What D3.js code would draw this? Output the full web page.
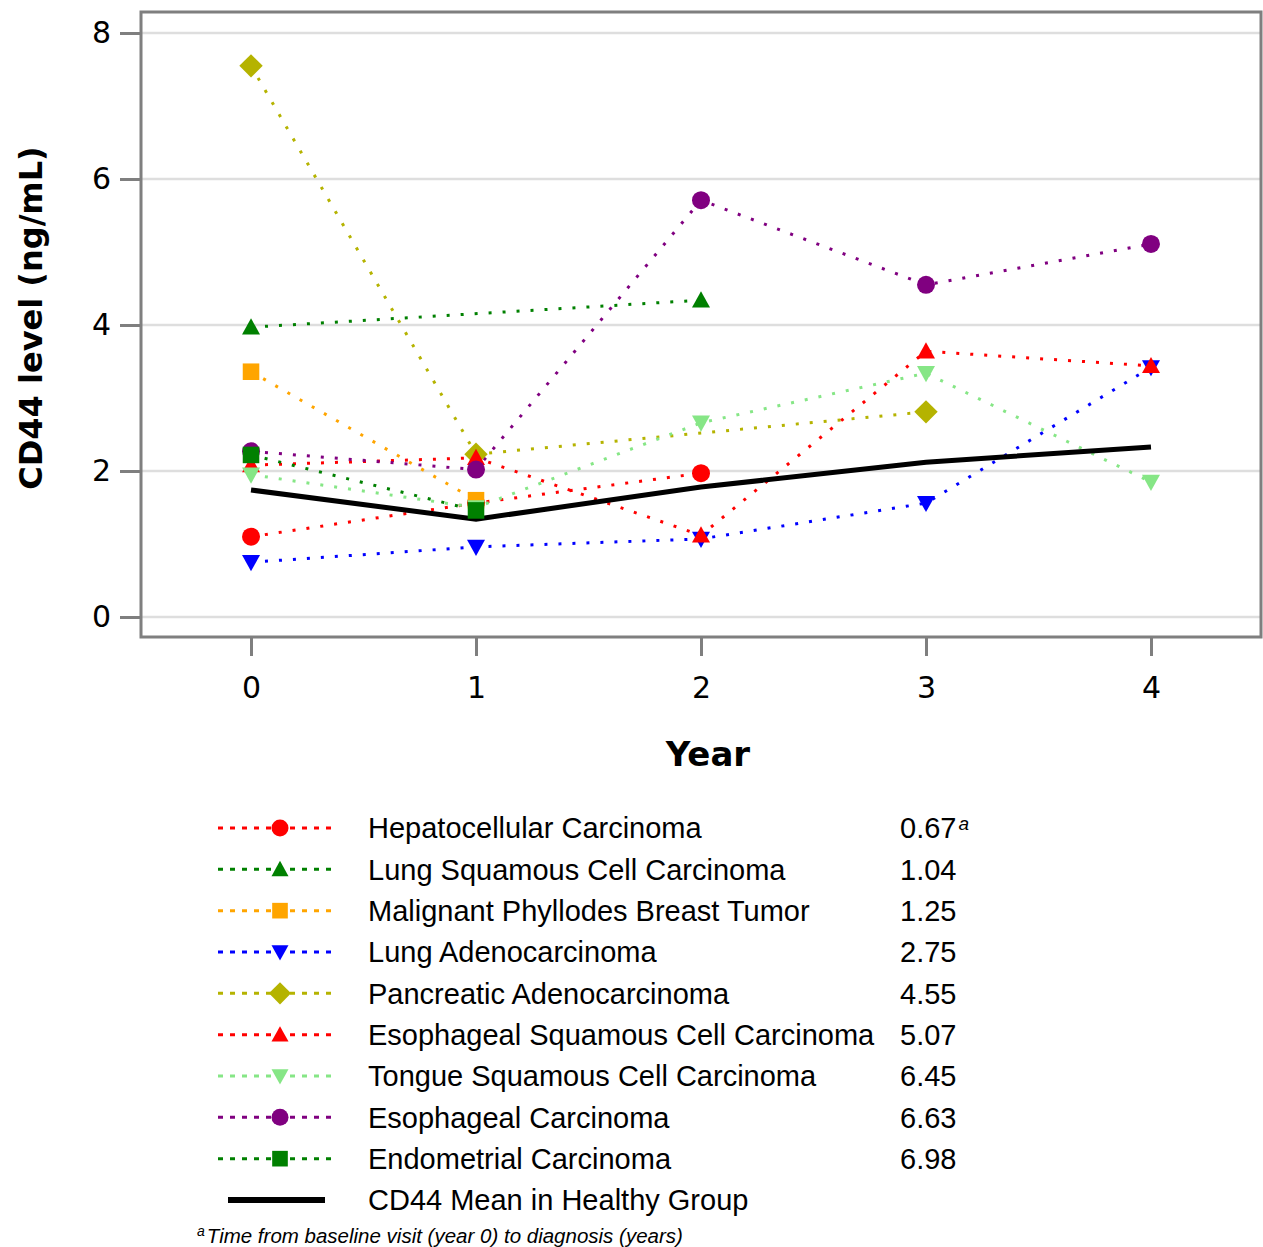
<!DOCTYPE html>
<html>
<head>
<meta charset="utf-8">
<script src="https://cdn.jsdelivr.net/npm/d3@7"></script>
<style>
	body { margin: 0; background: #fff; }
	svg { display: block; }
</style>
</head>
<body>
<svg id="chart" width="1263" height="1247"></svg>
<script>
// data
const years = [0, 1, 2, 3, 4];
const yTicks = [0, 2, 4, 6, 8];

const seriesNames = [
	'Hepatocellular Carcinoma',
	'Lung Squamous Cell Carcinoma',
	'Malignant Phyllodes Breast Tumor',
	'Lung Adenocarcinoma',
	'Pancreatic Adenocarcinoma',
	'Esophageal Squamous Cell Carcinoma',
	'Tongue Squamous Cell Carcinoma',
	'Esophageal Carcinoma',
	'Endometrial Carcinoma'
];
const diagnosisTimes = ['0.67', '1.04', '1.25', '2.75', '4.55', '5.07', '6.45', '6.63', '6.98'];
const seriesColors = ['#ff0000', '#008000', '#ffa500', '#0000ff', '#b5b300', '#ff0000', '#86e686', '#800080', '#008000'];
const seriesShapes = ['circle', 'up', 'square', 'down', 'diamond', 'up', 'down', 'circle', 'square'];

// one value per year, null where there is no visit
const hepatocellular = [1.10, 1.56, 1.97, null, null];
const lungSquamous = [3.97, null, 4.34, null, null];
const phyllodes = [3.36, 1.60, null, null, null];
const lungAdeno = [0.75, 0.96, 1.07, 1.56, 3.42];
const pancreatic = [7.55, 2.23, null, 2.81, null];
const esophagealSquamous = [2.08, 2.18, 1.12, 3.64, 3.44];
const tongueSquamous = [1.95, 1.50, 2.66, 3.34, 1.85];
const esophageal = [2.27, 2.02, 5.71, 4.55, 5.11];
const endometrial = [2.22, 1.46, null, null, null];
const seriesValues = [hepatocellular, lungSquamous, phyllodes, lungAdeno, pancreatic,
	esophagealSquamous, tongueSquamous, esophageal, endometrial];

const healthyMean = [1.74, 1.34, 1.78, 2.12, 2.33];
const healthyLabel = 'CD44 Mean in Healthy Group';

// configs
const PLOT = { left: 141, right: 1261, top: 12, bottom: 637 };
const FRAME_COLOR = '#7f7f7f';
const GRID_COLOR = '#dedede';
const MARKER_R = 9;
const LEGEND_MARKER_R = 8.5;
const TICK_FONT = '"DejaVu Sans", Verdana, sans-serif';
const TEXT_FONT = '"Liberation Sans", Arial, sans-serif';

// marker shapes, size is used as half-width
const shapes = {
	circle: { draw(ctx, r) { ctx.moveTo(r, 0); ctx.arc(0, 0, r, 0, 2 * Math.PI); } },
	up: { draw(ctx, r) { ctx.moveTo(0, -r); ctx.lineTo(r, r * 0.8); ctx.lineTo(-r, r * 0.8); ctx.closePath(); } },
	down: { draw(ctx, r) { ctx.moveTo(0, r); ctx.lineTo(r, -r * 0.8); ctx.lineTo(-r, -r * 0.8); ctx.closePath(); } },
	square: { draw(ctx, r) { const s = r * 0.92; ctx.rect(-s, -s, 2 * s, 2 * s); } },
	diamond: { draw(ctx, r) { const s = r * 1.3; ctx.moveTo(0, -s); ctx.lineTo(s, 0); ctx.lineTo(0, s); ctx.lineTo(-s, 0); ctx.closePath(); } }
};

const svg = d3.select('#chart');

const x = d3.scaleLinear().domain([-0.489, 4.489]).range([PLOT.left, PLOT.right]);
const y = d3.scaleLinear().domain([0, 8]).range([617, 33]);

// gridlines
svg.append('g')
	.selectAll('line')
	.data(yTicks)
	.join('line')
	.attr('x1', PLOT.left).attr('x2', PLOT.right)
	.attr('y1', d => y(d)).attr('y2', d => y(d))
	.attr('stroke', GRID_COLOR)
	.attr('stroke-width', 2.5);

// frame
svg.append('rect')
	.attr('x', PLOT.left).attr('y', PLOT.top)
	.attr('width', PLOT.right - PLOT.left).attr('height', PLOT.bottom - PLOT.top)
	.attr('fill', 'none')
	.attr('stroke', FRAME_COLOR)
	.attr('stroke-width', 3);

// axes
const yAxis = svg.append('g')
	.attr('transform', `translate(${PLOT.left - 1},0)`)
	.call(d3.axisLeft(y).tickValues(yTicks).tickFormat(d3.format('d')).tickSize(20).tickPadding(9));
const xAxis = svg.append('g')
	.attr('transform', `translate(0,${PLOT.bottom + 1})`)
	.call(d3.axisBottom(x).tickValues(years).tickFormat(d3.format('d')).tickSize(18).tickPadding(21));

[yAxis, xAxis].forEach(ax => {
	ax.select('.domain').remove();
	ax.selectAll('.tick line').attr('stroke', FRAME_COLOR).attr('stroke-width', 3);
	ax.selectAll('.tick text')
		.attr('fill', '#000')
		.style('font-family', TICK_FONT)
		.style('font-size', '30px');
});

// axis titles
svg.append('text')
	.attr('transform', 'translate(42,318) rotate(-90)')
	.attr('text-anchor', 'middle')
	.style('font-family', TICK_FONT)
	.style('font-weight', 'bold')
	.style('font-size', '32px')
	.text('CD44 level (ng/mL)');

svg.append('text')
	.attr('x', 708).attr('y', 766)
	.attr('text-anchor', 'middle')
	.style('font-family', TICK_FONT)
	.style('font-weight', 'bold')
	.style('font-size', '34px')
	.text('Year');

// series points, skipping missing years
const series = seriesNames.map((name, i) => ({
	name,
	color: seriesColors[i],
	shape: shapes[seriesShapes[i]],
	points: years.map((yr, j) => ({ year: yr, value: seriesValues[i][j] })).filter(p => p.value !== null)
}));

const line = d3.line().x(d => x(d.year)).y(d => y(d.value));

// dotted lines
svg.append('g')
	.selectAll('path')
	.data(series)
	.join('path')
	.attr('d', d => line(d.points))
	.attr('fill', 'none')
	.attr('stroke', d => d.color)
	.attr('stroke-width', 3)
	.attr('stroke-dasharray', '3 11');

// healthy mean line
svg.append('path')
	.attr('d', line(years.map((yr, j) => ({ year: yr, value: healthyMean[j] }))))
	.attr('fill', 'none')
	.attr('stroke', '#000')
	.attr('stroke-width', 5);

// markers
const markerGroups = svg.append('g')
	.selectAll('g')
	.data(series)
	.join('g')
	.attr('fill', d => d.color);

markerGroups.each(function (s) {
	d3.select(this).selectAll('path')
		.data(s.points)
		.join('path')
		.attr('transform', d => `translate(${x(d.year)},${y(d.value)})`)
		.attr('d', d3.symbol().type(s.shape).size(MARKER_R));
});

// legend
const legendY = d3.scalePoint().domain([...seriesNames, healthyLabel]).range([828, 1200]);

const legend = svg.append('g')
	.selectAll('g')
	.data(series)
	.join('g')
	.attr('transform', d => `translate(0,${legendY(d.name)})`);

legend.append('line')
	.attr('x1', 218).attr('x2', 337)
	.attr('stroke', d => d.color)
	.attr('stroke-width', 3)
	.attr('stroke-dasharray', '5 7');

legend.append('path')
	.attr('transform', 'translate(280,0)')
	.attr('fill', d => d.color)
	.attr('d', d => d3.symbol().type(d.shape).size(LEGEND_MARKER_R)());

legend.append('text')
	.attr('x', 368).attr('dy', '0.36em')
	.style('font-family', TEXT_FONT)
	.style('font-size', '29px')
	.text(d => d.name);

legend.append('text')
	.attr('x', 900).attr('dy', '0.36em')
	.style('font-family', TEXT_FONT)
	.style('font-size', '29px')
	.text((d, i) => diagnosisTimes[i])
	.filter((d, i) => i === 0)
	.append('tspan')
	.attr('dx', 2).attr('dy', '-0.45em')
	.style('font-size', '19px')
	.style('font-style', 'italic')
	.text('a');

const healthyRow = svg.append('g')
	.attr('transform', `translate(0,${legendY(healthyLabel)})`);
healthyRow.append('line')
	.attr('x1', 228).attr('x2', 325)
	.attr('stroke', '#000')
	.attr('stroke-width', 6);
healthyRow.append('text')
	.attr('x', 368).attr('dy', '0.36em')
	.style('font-family', TEXT_FONT)
	.style('font-size', '29px')
	.text(healthyLabel);

// footnote
const note = svg.append('text')
	.attr('x', 197).attr('y', 1243)
	.style('font-family', TEXT_FONT)
	.style('font-style', 'italic')
	.style('font-size', '20.5px');
note.append('tspan').attr('dy', '-7').style('font-size', '14px').text('a');
note.append('tspan').attr('dy', '7').attr('dx', 2).text('Time from baseline visit (year 0) to diagnosis (years)');
</script>
</body>
</html>
